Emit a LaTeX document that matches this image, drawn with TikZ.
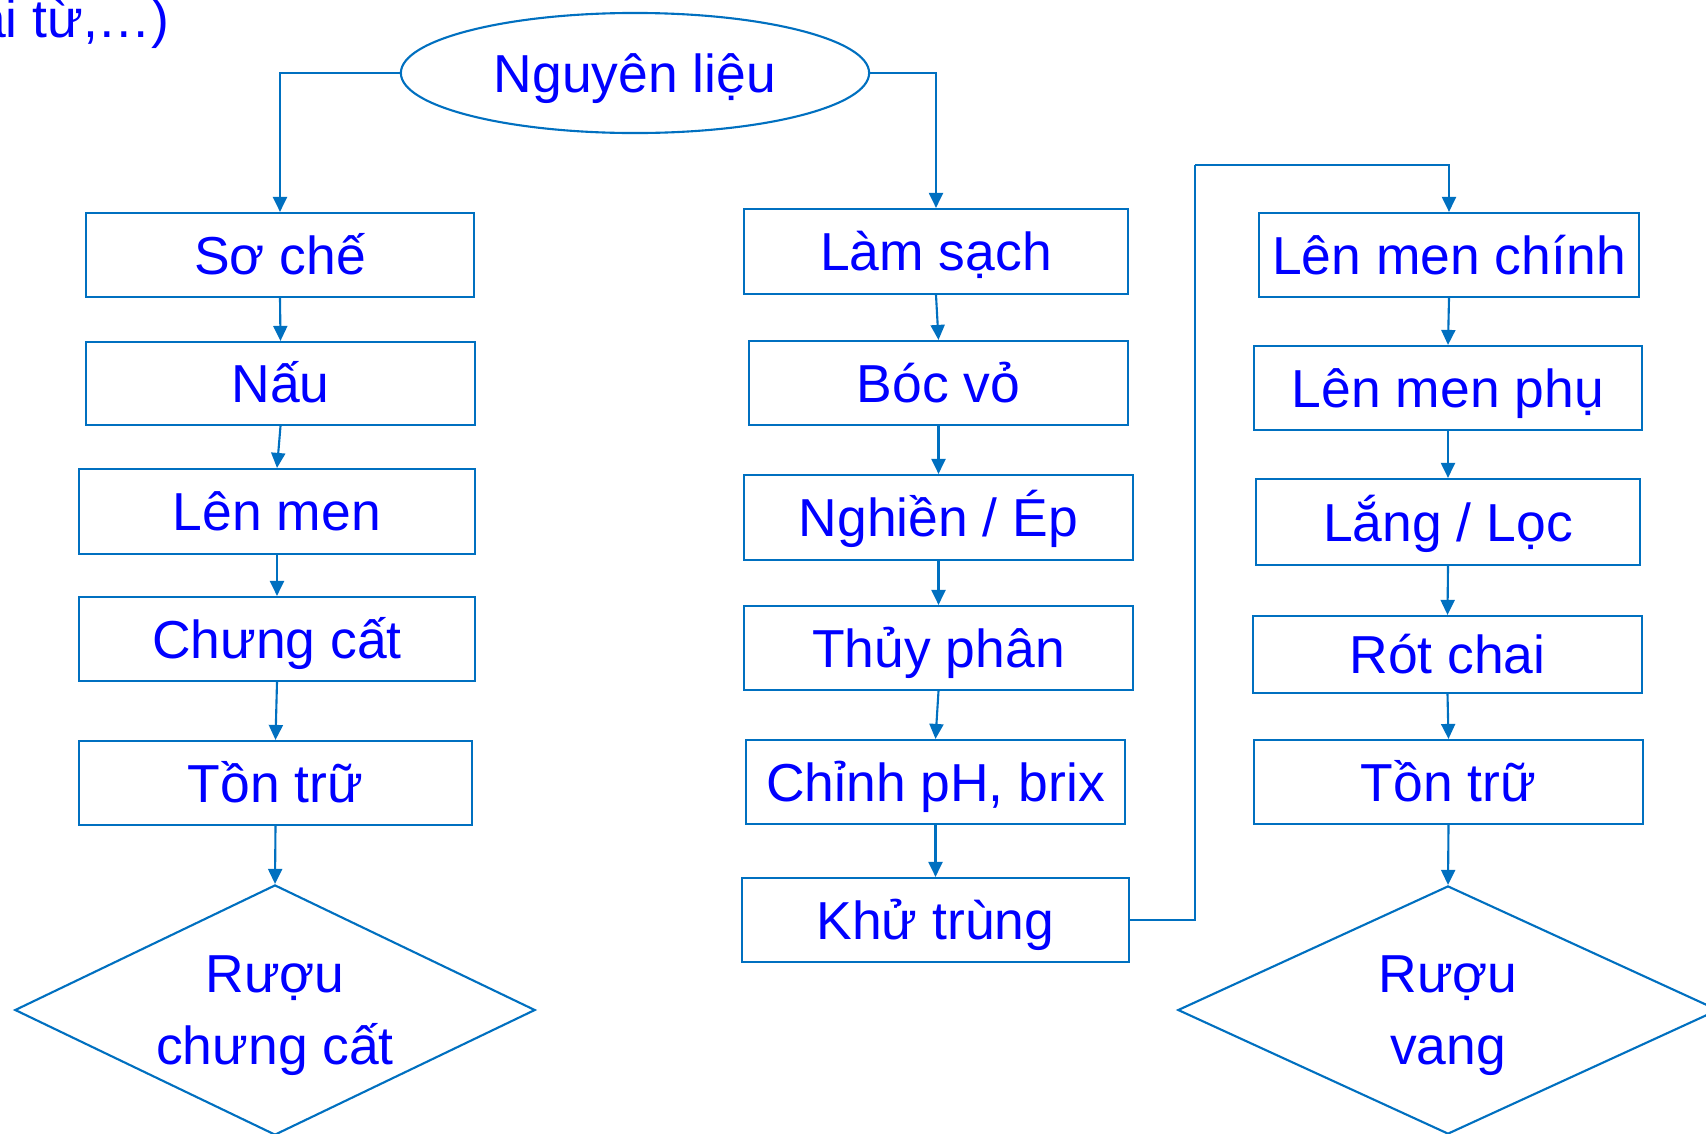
\documentclass[tikz,border=0pt]{standalone}
\usepackage{fontspec}
\setmainfont{Liberation Sans}
\usetikzlibrary{shapes.geometric,arrows.meta}
\definecolor{lineblue}{RGB}{0,112,192}
\definecolor{textblue}{RGB}{0,0,255}
\tikzset{
  every node/.style={text=textblue,font=\fontsize{15.2}{20.4}\selectfont},
  stepbox/.style={draw=lineblue,line width=0.6pt,rectangle,inner sep=0pt,text height=10.9pt,text depth=0pt},
  endbox/.style={draw=lineblue,line width=0.6pt,diamond,inner sep=0pt},
  endtext/.style={align=center,inner sep=0pt,yshift=-0.055cm},
  startbox/.style={draw=lineblue,line width=0.6pt,ellipse,inner sep=0pt,text height=10.9pt,text depth=0pt},
  conn/.style={draw=lineblue,line width=0.6pt,-{Triangle[length=0.15cm,width=0.14cm]}},
  plain/.style={draw=lineblue,line width=0.6pt}
}
\begin{document}
\begin{tikzpicture}[x=0.01cm,y=-0.01cm]
\useasboundingbox (0,0) rectangle (1706,1133);
\clip (0,0) rectangle (1706,1133);
\fill[white] (0,0) rectangle (1706,1133);

\node[anchor=base east,inner sep=0pt] (note) at (170,37) {ai từ,…)};

\node[startbox,minimum width=4.68cm,minimum height=1.2cm] (e) at (635,73) {Nguyên liệu};

% left column
\node[stepbox,minimum width=3.88cm,minimum height=0.84cm] (s1) at (280,255) {Sơ chế};
\node[stepbox,minimum width=3.89cm,minimum height=0.83cm] (s2) at (280.5,383.5) {Nấu};
\node[stepbox,minimum width=3.96cm,minimum height=0.85cm] (s3) at (277,511.5) {Lên men};
\node[stepbox,minimum width=3.96cm,minimum height=0.84cm] (s4) at (277,639) {Chưng cất};
\node[stepbox,minimum width=3.93cm,minimum height=0.84cm] (s5) at (275.5,783) {Tồn trữ};
\node[endbox,minimum width=5.2cm,minimum height=2.5cm] (d1) at (275,1010) {};
\node[endtext] (t1) at (d1.center) {Rượu\\chưng cất};

% middle column
\node[stepbox,minimum width=3.84cm,minimum height=0.85cm] (m1) at (936,251.5) {Làm sạch};
\node[stepbox,minimum width=3.79cm,minimum height=0.84cm] (m2) at (938.5,383) {Bóc vỏ};
\node[stepbox,minimum width=3.89cm,minimum height=0.85cm] (m3) at (938.5,517.5) {Nghiền / Ép};
\node[stepbox,minimum width=3.89cm,minimum height=0.84cm] (m4) at (938.5,648) {Thủy phân};
\node[stepbox,minimum width=3.79cm,minimum height=0.84cm] (m5) at (935.5,782) {Chỉnh pH, brix};
\node[stepbox,minimum width=3.87cm,minimum height=0.84cm] (m6) at (935.5,920) {Khử trùng};

% right column
\node[stepbox,minimum width=3.80cm,minimum height=0.84cm] (r1) at (1449,255) {Lên men chính};
\node[stepbox,minimum width=3.88cm,minimum height=0.84cm] (r2) at (1448,388) {Lên men phụ};
\node[stepbox,minimum width=3.84cm,minimum height=0.86cm] (r3) at (1448,522) {Lắng / Lọc};
\node[stepbox,minimum width=3.89cm,minimum height=0.77cm] (r4) at (1447.5,654.5) {Rót chai};
\node[stepbox,minimum width=3.89cm,minimum height=0.84cm] (r5) at (1448.5,782) {Tồn trữ};
\node[endbox,minimum width=5.4cm,minimum height=2.48cm] (d2) at (1448,1010) {};
\node[endtext] (t2) at (d2.center) {Rượu\\vang};

\coordinate (k1) at (1195,165);

% connectors
\draw[conn] (e.west) -| (s1.north);
\draw[conn] (e.east) -| (m1.north);
\draw[conn] (s1.south) -- (s2.north);
\draw[conn] (s2.south) -- (s3.north);
\draw[conn] (s3.south) -- (s4.north);
\draw[conn] (s4.south) -- (s5.north);
\draw[conn] (s5.south) -- (d1.north);
\draw[conn] (m1.south) -- (m2.north);
\draw[conn] (m2.south) -- (m3.north);
\draw[conn] (m3.south) -- (m4.north);
\draw[conn] (m4.south) -- (m5.north);
\draw[conn] (m5.south) -- (m6.north);
\draw[plain] (m6.east) -| (k1);
\draw[conn] (k1) -| (r1.north);
\draw[conn] (r1.south) -- (r2.north);
\draw[conn] (r2.south) -- (r3.north);
\draw[conn] (r3.south) -- (r4.north);
\draw[conn] (r4.south) -- (r5.north);
\draw[conn] (r5.south) -- (d2.north);
\end{tikzpicture}
\end{document}
